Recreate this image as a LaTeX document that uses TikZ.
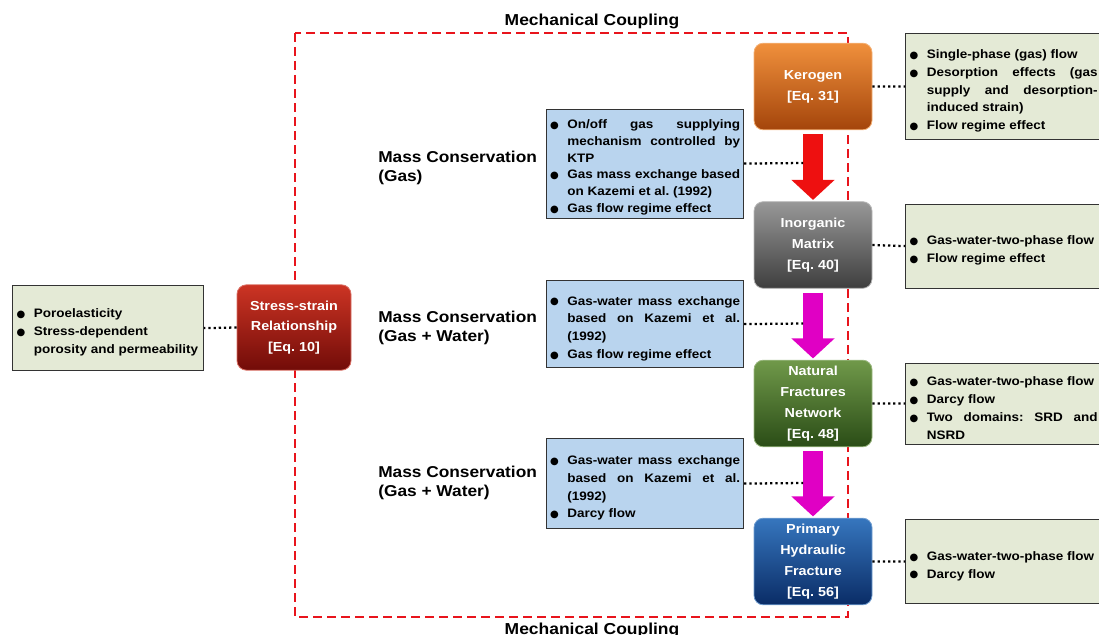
\documentclass[tikz,border=0pt]{standalone}
\usepackage{fontspec}
\setmainfont[FakeStretch=1.1]{Liberation Sans}
\newfontfamily\dotfont{DejaVu Sans}
\usetikzlibrary{arrows.meta,positioning}
\frenchspacing

\definecolor{boxGreen}{HTML}{E4EAD6}
\definecolor{boxBlue}{HTML}{B9D4EE}
\definecolor{frameRed}{HTML}{E8141C}
\definecolor{arrowRed}{HTML}{EE1010}
\definecolor{arrowMagenta}{HTML}{E000C4}
\definecolor{kerogenTop}{HTML}{F0903C}
\definecolor{kerogenBot}{HTML}{A4450B}
\definecolor{stressTop}{HTML}{CC3424}
\definecolor{stressBot}{HTML}{720C08}
\definecolor{matrixTop}{HTML}{989898}
\definecolor{matrixBot}{HTML}{3E3E3E}
\definecolor{fractTop}{HTML}{70994A}
\definecolor{fractBot}{HTML}{2A4C16}
\definecolor{hydroTop}{HTML}{3676BE}
\definecolor{hydroBot}{HTML}{0A2C66}

\newcommand{\notefont}{\fontsize{9.2pt}{13.3pt}\selectfont\bfseries}
\newcommand{\layerfont}{\fontsize{9.8pt}{15.6pt}\selectfont\bfseries}
\newcommand{\bitem}{\par\noindent\hangindent=13pt\hangafter=1%
  \makebox[13pt][l]{\raisebox{0.2pt}{\dotfont\fontsize{7.5pt}{8pt}\selectfont ●}}}

\begin{document}
\begin{tikzpicture}[x=0.75pt,y=-0.75pt]
    \tikzstyle{notebox}=[draw=black!80, line width=0.9pt, inner xsep=3pt, inner ysep=2pt,
    align=justify, font=\notefont, anchor=north west]
    \tikzstyle{greenbox}=[notebox, fill=boxGreen, text width=137.25pt]
    \tikzstyle{bluebox}=[notebox, fill=boxBlue, inner xsep=2.6pt, text width=142.5pt]
    \tikzstyle{rightbox}=[notebox, fill=boxGreen, text width=141pt]
    \tikzstyle{layerbox}=[rounded corners=7pt, minimum width=88.5pt, minimum height=65pt,
    align=center, text=white, font=\layerfont, line width=0.6pt]
    \tikzstyle{masslabel}=[anchor=west, align=left, inner sep=0pt,
    font=\fontsize{11.8pt}{14.3pt}\selectfont\bfseries]
    \tikzstyle{couplelabel}=[anchor=base, inner sep=0pt,
    font=\fontsize{11.9pt}{14pt}\selectfont\bfseries]
    \tikzstyle{flowarrow}=[line width=15pt, -{Triangle[width=31.5pt,length=15pt]},
    shorten <=3pt, shorten >=1pt]
    \tikzstyle{dotlink}=[line width=1.7pt, dash pattern=on 1.7pt off 2.2pt]
    \tikzstyle{frameline}=[frameRed, line width=1.9pt, dash pattern=on 6.75pt off 3.75pt]

\useasboundingbox (0,0) rectangle (1099,635);

\draw[frameline] (295,33) rectangle (848,617);
\node[couplelabel] (mechTop) at (592,26) {Mechanical Coupling};
\node[couplelabel] (mechBot) at (592,634) {Mechanical Coupling};

\node[layerbox, minimum width=85.5pt, minimum height=64pt, draw=stressTop!70!white,
    top color=stressTop, bottom color=stressBot] (stress) at (294,327.5)
    {Stress-strain\\Relationship\\{[Eq. 10]}};
\node[greenbox, minimum height=63.75pt] (poro) at (12,285)
    {\bitem Poroelasticity
     \bitem Stress-dependent\newline porosity and permeability\par};

\node[layerbox, draw=kerogenTop!70!white, top color=kerogenTop, bottom color=kerogenBot]
    (kerogen) at (813,86.5) {Kerogen\\{[Eq. 31]}};
\node[layerbox, draw=matrixTop!70!white, top color=matrixTop, bottom color=matrixBot]
    (inorganic) at (813,245) {Inorganic\\Matrix\\{[Eq. 40]}};
\node[layerbox, draw=fractTop!70!white, top color=fractTop, bottom color=fractBot]
    (natural) at (813,403.5) {Natural\\Fractures\\Network\\{[Eq. 48]}};
\node[layerbox, draw=hydroTop!70!white, top color=hydroTop, bottom color=hydroBot]
    (hydraulic) at (813,561.5) {Primary\\Hydraulic\\Fracture\\{[Eq. 56]}};

\draw[flowarrow, arrowRed] (kerogen.south) -- (inorganic.north);
\draw[flowarrow, arrowMagenta] (inorganic.south) -- (natural.north);
\draw[flowarrow, arrowMagenta] (natural.south) -- (hydraulic.north);
\coordinate (shaftGas) at (803,163);
\coordinate (shaftWater) at (803,323.5);
\coordinate (shaftDarcy) at (803,483);

% notes on the right
\node[rightbox, minimum height=79.5pt] (kerNotes) at (905,33)
    {\bitem Single-phase (gas) flow
     \bitem Desorption effects (gas\linebreak supply and desorption-\linebreak induced strain)
     \bitem Flow regime effect\par};
\node[rightbox, minimum height=63pt] (matNotes) at (905,203.5)
    {\bitem Gas-water-two-phase flow
     \bitem Flow regime effect\par};
\node[rightbox, minimum height=60.75pt] (natNotes) at (905,362.5)
    {\bitem Gas-water-two-phase flow
     \bitem Darcy flow
     \bitem Two domains: SRD and\linebreak NSRD\par};
\node[rightbox, minimum height=63pt] (hydNotes) at (905,519)
    {\bitem Gas-water-two-phase flow
     \bitem Darcy flow\par};

% mass conservation
\node[masslabel] (massGas) at (378,167.5) {Mass Conservation\\(Gas)};
\node[masslabel] (massWater) at (378,327.5) {Mass Conservation\\(Gas + Water)};
\node[masslabel] (massDarcy) at (378,482.5) {Mass Conservation\\(Gas + Water)};

\node[bluebox, minimum height=81.75pt, font=\fontsize{9.2pt}{12.5pt}\selectfont\bfseries]
    (bluegas) at (546,108.5)
    {\bitem On/off gas supplying\linebreak mechanism controlled by\linebreak KTP
     \bitem Gas mass exchange based\linebreak on Kazemi et al. (1992)
     \bitem Gas flow regime effect\par};
\node[bluebox, minimum height=65.25pt] (bluewater) at (546,280)
    {\bitem Gas-water mass exchange\linebreak based on Kazemi et al.\linebreak (1992)
     \bitem Gas flow regime effect\par};
\node[bluebox, minimum height=67.5pt] (bluedarcy) at (546,438)
    {\bitem Gas-water mass exchange\linebreak based on Kazemi et al.\linebreak (1992)
     \bitem Darcy flow\par};

\draw[dotlink] (stress.west) -- (poro.east);
\draw[dotlink] (kerogen.east) -- (kerNotes.west);
\draw[dotlink] (inorganic.east) -- (matNotes.west);
\draw[dotlink] (natural.east) -- (natNotes.west);
\draw[dotlink] (hydraulic.east) -- (hydNotes.west);
\draw[dotlink] (bluegas.east) -- (shaftGas);
\draw[dotlink] (bluewater.east) -- (shaftWater);
\draw[dotlink] (bluedarcy.east) -- (shaftDarcy);

\end{tikzpicture}
\end{document}
